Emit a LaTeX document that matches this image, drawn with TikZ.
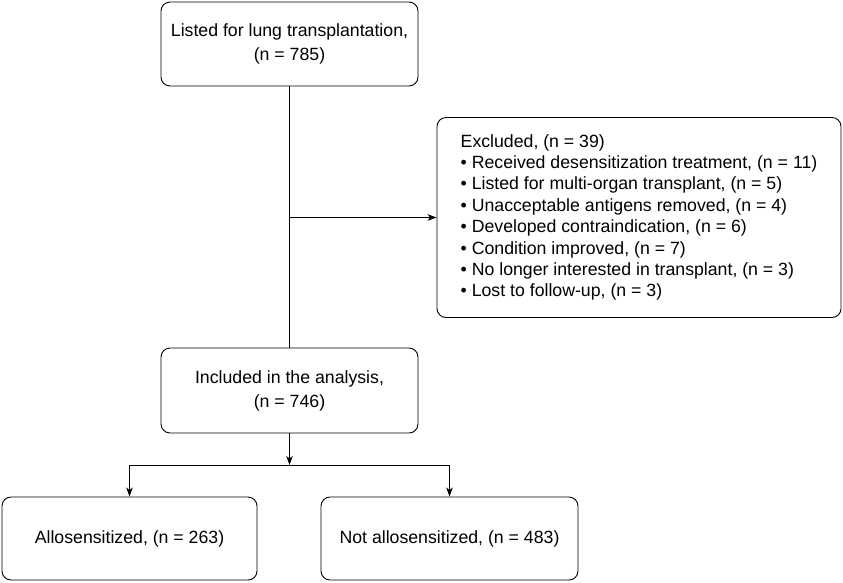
\documentclass[tikz,border=0pt]{standalone}
\usepackage{fontspec}
\setmainfont{Liberation Sans}
\usetikzlibrary{arrows.meta}

\begin{document}
\begin{tikzpicture}[x=1pt, y=-1pt,
        box/.style={draw, rounded corners=9pt, line width=0.9pt, align=center, inner sep=0pt,
            font=\fontsize{17.7}{24}\selectfont},
        link/.style={line width=0.9pt, -{Stealth[length=9pt, width=6.5pt, inset=2.5pt]}}]
        \useasboundingbox (0,0) rectangle (843,582);
        \node[box, minimum width=257pt, minimum height=84pt] (listed) at (289.5, 44) {Listed for lung transplantation,\\(n = 785)};
        \node[box, minimum width=404pt, minimum height=200pt, align=left,
            font=\fontsize{17.7}{21.4}\selectfont] (excluded) at (639, 217.5)
            {Excluded, (n = 39)\\
             • Received desensitization treatment, (n = 11)\\
             • Listed for multi-organ transplant, (n = 5)\\
             • Unacceptable antigens removed, (n = 4)\\
             • Developed contraindication, (n = 6)\\
             • Condition improved, (n = 7)\\
             • No longer interested in transplant, (n = 3)\\
             • Lost to follow-up, (n = 3)};
        \node[box, minimum width=257pt, minimum height=85pt] (included) at (289.5, 390.5) {Included in the analysis,\\(n = 746)};
        \node[box, minimum width=255pt, minimum height=83pt] (allo) at (129.5, 538.5) {Allosensitized, (n = 263)};
        \node[box, minimum width=257pt, minimum height=83pt] (notallo) at (449.5, 538.5) {Not allosensitized, (n = 483)};
        \coordinate (split) at (289.5, 217.5);
        \coordinate (fork) at (289.5, 465);
        \draw[line width=0.9pt] (listed) -- (included);
        \draw[link] (split) -- (excluded.west);
        \draw[link] (included) -- (fork);
        \draw[link] (fork) -| (allo.north);
        \draw[link] (fork) -| (notallo.north);
    \end{tikzpicture}
\end{document}
